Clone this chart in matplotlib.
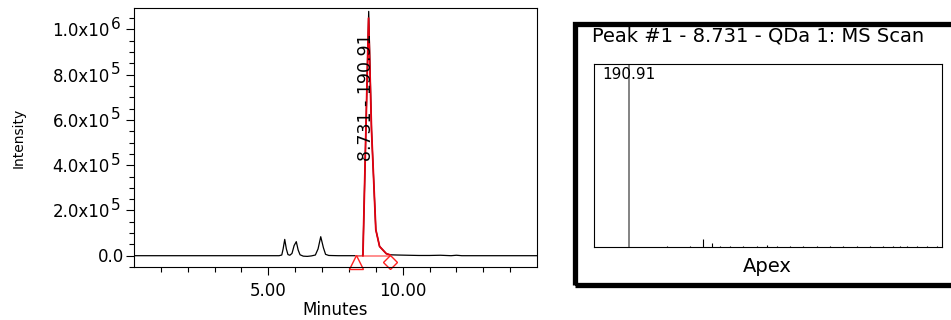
import matplotlib
matplotlib.use("Agg")
import matplotlib.pyplot as plt
from matplotlib.patches import Rectangle
from matplotlib.transforms import ScaledTranslation

# -- chromatogram trace (minutes, counts)
chrom_time = [0.0, 5.40, 5.50, 5.55, 5.61, 5.67, 5.73, 5.80, 5.88, 5.96, 6.04,
              6.11, 6.18, 6.30, 6.45, 6.60, 6.75, 6.85, 6.95, 7.05, 7.13, 7.25,
              7.60, 8.00, 8.45, 8.52, 8.735, 8.84, 9.00, 9.14, 9.39, 9.52, 9.80,
              10.20, 10.60, 11.00, 11.40, 11.60, 11.80, 12.00, 12.20, 15.00]
chrom_int = [0, 0, 3e3, 3.0e4, 7.2e4, 3.0e4, 5e3, 2e3, 1.0e4, 4.5e4, 6.2e4,
             2.5e4, 4e3, -2e3, -3e3, -1e3, 3e3, 3.0e4, 8.4e4, 3.5e4, 6e3, 1e3,
             0, 0, 0, 2e3, 1.08e6, 5.56e5, 1.15e5, 4.1e4, 9e3, 4e3, 3e3,
             2e3, 1e3, 1e3, 2e3, 1e3, 0, 2e3, 0, 0]

# -- integrated peak (red)
peak_time = [8.52, 8.73, 8.84, 9.00, 9.14, 9.39, 9.52]
peak_int = [0, 1.05e6, 5.56e5, 1.15e5, 4.1e4, 9e3, 4e3]
peak_start = 8.25
peak_end = 9.52
peak_label = "8.731 - 190.91"
label_time = 8.65
label_int = 4.2e5

# -- y tick labels
ytick_vals = [0, 2e5, 4e5, 6e5, 8e5, 1e6]
ytick_base = ["0.0", "2.0x10", "4.0x10", "6.0x10", "8.0x10", "1.0x10"]
ytick_exp = ["", "5", "5", "5", "5", "6"]
xtick_vals = [5, 10]
xtick_labels = ["5.00", "10.00"]

# -- MS spectrum at apex (m/z, relative intensity)
spec_mz = [190.91, 383.4, 405.2, 288.8, 349.0, 426.7, 452.5, 486.9, 521.5,
           547.4, 573.3, 607.7, 642.1, 676.7, 711.1, 745.5, 780.2, 814.6,
           849.0, 874.9, 892.2, 909.5, 935.3, 961.2, 987.1]
spec_int = [100, 4.5, 2.2, 0.8, 0.6, 0.9, 0.7, 0.6, 0.8,
            1.0, 0.7, 0.9, 0.6, 0.8, 0.6, 0.7, 0.6, 0.8,
            0.6, 0.7, 0.9, 0.8, 0.6, 0.7, 0.6]
spec_title = "Peak #1 - 8.731 - QDa 1: MS Scan"

fig = plt.figure(figsize=(9.51, 3.2), dpi=100)

# ---------------- chromatogram
ax = fig.add_axes([0.1409, 0.1656, 0.4238, 0.8094])
ax.plot(chrom_time, chrom_int, color="black", lw=0.9)
ax.plot([peak_start, peak_end], [0, 0], color="#ff7a7a", lw=1.2)
ax.plot(peak_time, peak_int, color="#e3000f", lw=1.3)

below = ax.transData + ScaledTranslation(0, -6 / 100, fig.dpi_scale_trans)
ax.plot([peak_start], [0], marker="^", ms=10, mfc="none", mec="#ff2020",
        mew=1.0, transform=below, clip_on=False)
ax.plot([peak_end], [0], marker="D", ms=7.5, mfc="none", mec="#ff2020",
        mew=1.0, transform=below, clip_on=False)

ax.text(label_time, label_int, peak_label, rotation=90, ha="center",
        va="bottom", fontsize=12.5)

ax.set_xlim(0, 15)
ax.set_ylim(-5e4, 1.095e6)
ax.set_xticks(xtick_vals)
ax.set_xticklabels(xtick_labels, fontsize=12)
ax.set_xticks([t for t in range(1, 15) if t not in xtick_vals], minor=True)
ax.set_yticks(ytick_vals)
ax.set_yticklabels([])
ax.set_yticks([k * 5e4 for k in range(-1, 22)], minor=True)
ax.tick_params(which="major", length=6, width=0.8, pad=5)
ax.tick_params(which="minor", length=3.5, width=0.8)
for s in ax.spines.values():
    s.set_linewidth(0.8)

for v, base, exp in zip(ytick_vals, ytick_base, ytick_exp):
    if exp:
        ax.annotate(base, xy=(0, v), xycoords=("axes fraction", "data"),
                    xytext=(-24, -2), textcoords="offset pixels",
                    ha="right", va="center", fontsize=12)
        ax.annotate(exp, xy=(0, v), xycoords=("axes fraction", "data"),
                    xytext=(-23.5, 5), textcoords="offset pixels",
                    ha="left", va="center", fontsize=11)
    else:
        ax.annotate(base, xy=(0, v), xycoords=("axes fraction", "data"),
                    xytext=(-10, -1), textcoords="offset pixels",
                    ha="right", va="center", fontsize=12)

fig.text(335.5 / 951, 1 - 310 / 320, "Minutes", ha="center", va="center",
         fontsize=12)
fig.text(18.8 / 951, 1 - 137.5 / 320, "Intensity", rotation=90, ha="center",
         va="center", fontsize=10)

# ---------------- spectrum panel
fig.patches.append(Rectangle((575 / 951, 1 - 284.5 / 320), (965 - 575) / 951,
                             (284.5 - 24) / 320, transform=fig.transFigure,
                             fill=False, ec="black", lw=3.8, joinstyle="miter"))

ax2 = fig.add_axes([0.6243, 0.2272, 0.3659, 0.5719])
ax2.vlines(spec_mz[:1], 0, spec_int[:1], colors="#6e6e6e", lw=1.2)
ax2.vlines(spec_mz[1:], 0, spec_int[1:], colors="black", lw=0.8)
ax2.text(spec_mz[0], 94.5, "190.91", ha="center", va="center", fontsize=11)
ax2.set_xlim(100, 1000)
ax2.set_ylim(0, 100)
ax2.set_xticks([])
ax2.set_yticks([])
for s in ax2.spines.values():
    s.set_linewidth(0.8)

fig.text(592.3 / 951, 1 - 35.7 / 320, spec_title, ha="left", va="center",
         fontsize=14)
fig.text(767 / 951, 1 - 266.7 / 320, "Apex", ha="center", va="center",
         fontsize=14)

fig.savefig("out.png", dpi=100)
